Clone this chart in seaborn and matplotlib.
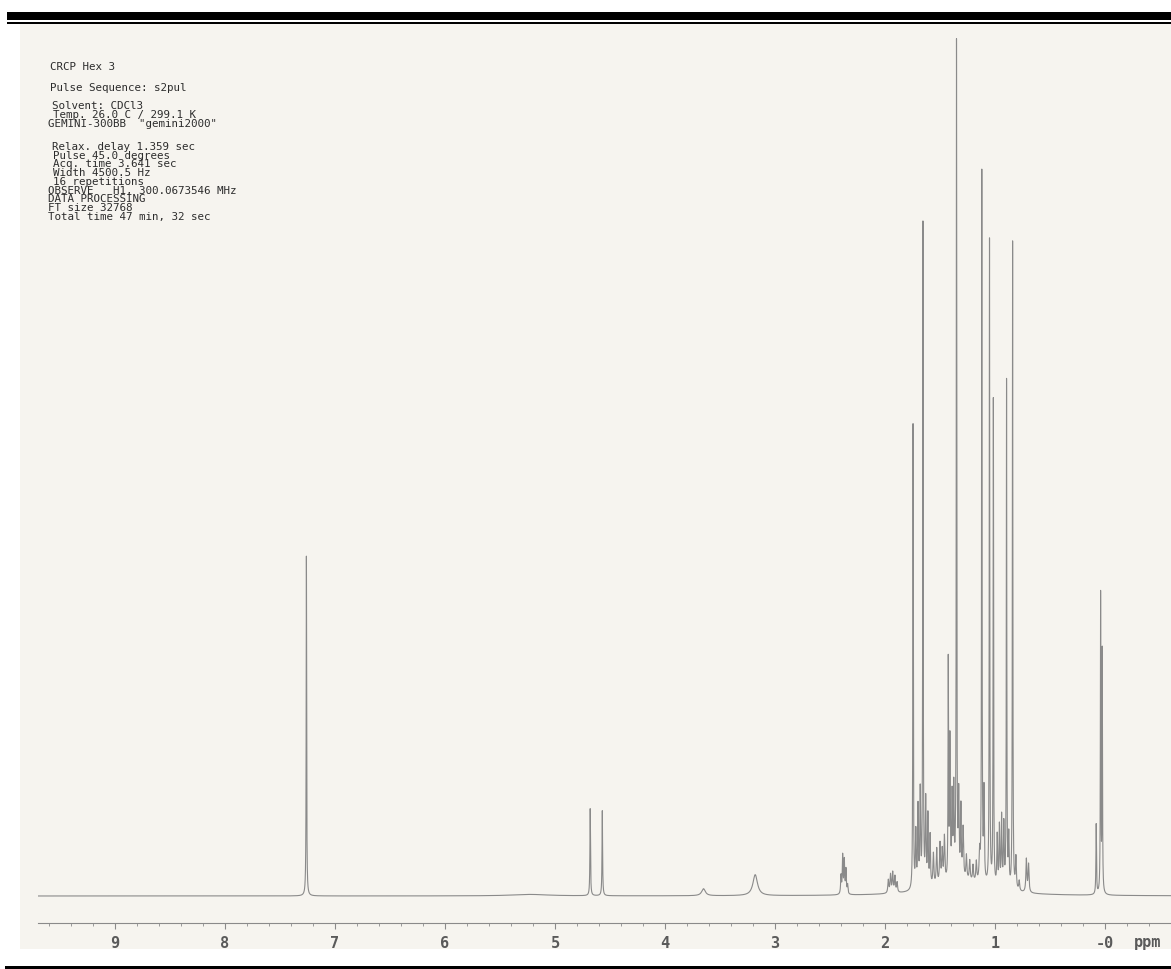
import numpy as np
import pandas as pd
import matplotlib
matplotlib.use("Agg")
import matplotlib.pyplot as plt
from matplotlib.patches import Rectangle
import seaborn as sns

# ---------------- data ----------------
# peak positions (ppm), heights (plot units ~ px above baseline), half-widths (ppm)
peak_ppm = [7.26, 4.68, 4.57, 3.65, 3.18,
            2.400, 2.385, 2.370, 2.355, 2.340,
            1.97, 1.95, 1.93, 1.91, 1.89,
            1.745, 1.72, 1.70, 1.68, 1.655, 1.63, 1.61, 1.59, 1.56, 1.53,
            1.50, 1.48, 1.46, 1.425, 1.41, 1.39, 1.375, 1.35, 1.33, 1.31,
            1.29, 1.26, 1.23, 1.20, 1.17, 1.14, 1.12, 1.10, 1.05, 1.015,
            0.98, 0.96, 0.94, 0.92, 0.895, 0.875, 0.84, 0.81, 0.78,
            0.715, 0.695, 0.08, 0.04, 0.025,
            5.23, 1.30]
peak_height = [340, 87, 85, 7, 21,
               18, 38, 33, 24, 9,
               13, 18, 20, 16, 10,
               465, 55, 80, 95, 663, 85, 70, 50, 32, 36,
               40, 32, 45, 216, 140, 80, 88, 835, 80, 70,
               50, 24, 20, 16, 20, 28, 710, 90, 646, 486,
               50, 60, 70, 62, 507, 50, 648, 32, 10,
               33, 28, 70, 298, 241,
               1.5, 14]
peak_width = [0.0025, 0.003, 0.003, 0.02, 0.025,
              0.004, 0.004, 0.004, 0.004, 0.004,
              0.005, 0.005, 0.005, 0.005, 0.005,
              0.0025, 0.004, 0.004, 0.004, 0.0025, 0.004, 0.004, 0.004, 0.005, 0.005,
              0.005, 0.005, 0.005, 0.0025, 0.004, 0.004, 0.004, 0.0025, 0.004, 0.004,
              0.005, 0.005, 0.005, 0.005, 0.005, 0.005, 0.0025, 0.004, 0.0025, 0.0025,
              0.004, 0.004, 0.004, 0.004, 0.0025, 0.004, 0.0025, 0.005, 0.005,
              0.005, 0.005, 0.003, 0.0025, 0.0025,
              0.20, 0.28]

tick_values = [0, 1, 2, 3, 4, 5, 6, 7, 8, 9]
tick_labels = ["-0", "1", "2", "3", "4", "5", "6", "7", "8", "9"]

header_lines = [
    ("CRCP Hex 3", 50, 67),
    ("Pulse Sequence: s2pul", 50, 88),
    ("Solvent: CDCl3", 52, 106),
    ("Temp. 26.0 C / 299.1 K", 53, 115),
    ('GEMINI-300BB  "gemini2000"', 48, 124),
    ("Relax. delay 1.359 sec", 52, 147),
    ("Pulse 45.0 degrees", 53, 156),
    ("Acq. time 3.641 sec", 53, 164),
    ("Width 4500.5 Hz", 53, 173),
    ("16 repetitions", 53, 182),
    ("OBSERVE   H1, 300.0673546 MHz", 48, 191),
    ("DATA PROCESSING", 48, 199),
    ("FT size 32768", 48, 208),
    ("Total time 47 min, 32 sec", 48, 217),
]

# ---------------- build trace ----------------
ppm = np.linspace(9.70, -0.60, 60000)
P = np.array(peak_ppm)[:, None]
H = np.array(peak_height)[:, None]
W = np.array(peak_width)[:, None]
intensity = (H * W**2 / ((ppm[None, :] - P) ** 2 + W**2)).sum(axis=0)
df = pd.DataFrame({"ppm": ppm, "intensity": intensity})

# ---------------- figure ----------------
FW, FH = 1171, 970
fig = plt.figure(figsize=(FW / 100, FH / 100), dpi=100, facecolor="white")

def px_rect(x0, y0, x1, y1, color, z=-5):
    fig.patches.append(Rectangle((x0 / FW, 1 - y1 / FH), (x1 - x0) / FW, (y1 - y0) / FH,
                                 transform=fig.transFigure, facecolor=color,
                                 edgecolor="none", zorder=z))

px_rect(20, 25, 1171, 950, "#f6f4ef", z=-10)  # scanned paper
px_rect(7, 13, 1171, 21, "black")            # top thick band
px_rect(7, 23, 1171, 25, "black")            # top thin line
px_rect(5, 967, 1171, 971, "black")          # bottom line

ax = fig.add_axes([38 / FW, 20 / FH, (FW - 38) / FW, 925 / FH])
ax.set_zorder(2)
ax.set_facecolor("none")
sns.lineplot(data=df, x="ppm", y="intensity", ax=ax, color="#8a8a8a",
             linewidth=0.8, estimator=None, sort=False)
ax.set_xlim(9.70, -0.60)
ax.set_ylim(-53, 872)
ax.set_xlabel("")
ax.set_ylabel("")

for s in ["top", "left", "right"]:
    ax.spines[s].set_visible(False)
ax.spines["bottom"].set_position(("data", -27))
ax.spines["bottom"].set_color("#8a8a8a")
ax.spines["bottom"].set_linewidth(0.8)
ax.set_yticks([])
ax.set_xticks(tick_values)
ax.set_xticklabels(tick_labels, family="DejaVu Sans Mono", fontsize=11,
                   fontweight="bold", color="#5a5a5a")
minor = [round(v, 1) for v in np.arange(-0.4, 9.61, 0.2) if abs(v - round(v)) > 0.05]
ax.set_xticks(minor, minor=True)
ax.tick_params(axis="x", which="major", direction="out", length=4.5, width=0.8,
               color="#8a8a8a", pad=4)
ax.tick_params(axis="x", which="minor", direction="out", length=2.2, width=0.7,
               color="#9a9a9a")

ax.text(-0.39, -46, "ppm", family="DejaVu Sans Mono", fontsize=11, fontweight="bold",
        color="#5a5a5a", ha="center", va="center")

for txt, x, y in header_lines:
    fig.text(x / FW, 1 - y / FH, txt, family="DejaVu Sans Mono", fontsize=7.8,
             color="#2c2c2c", ha="left", va="center", zorder=3)

fig.savefig("out.png", dpi=100, facecolor="white")
